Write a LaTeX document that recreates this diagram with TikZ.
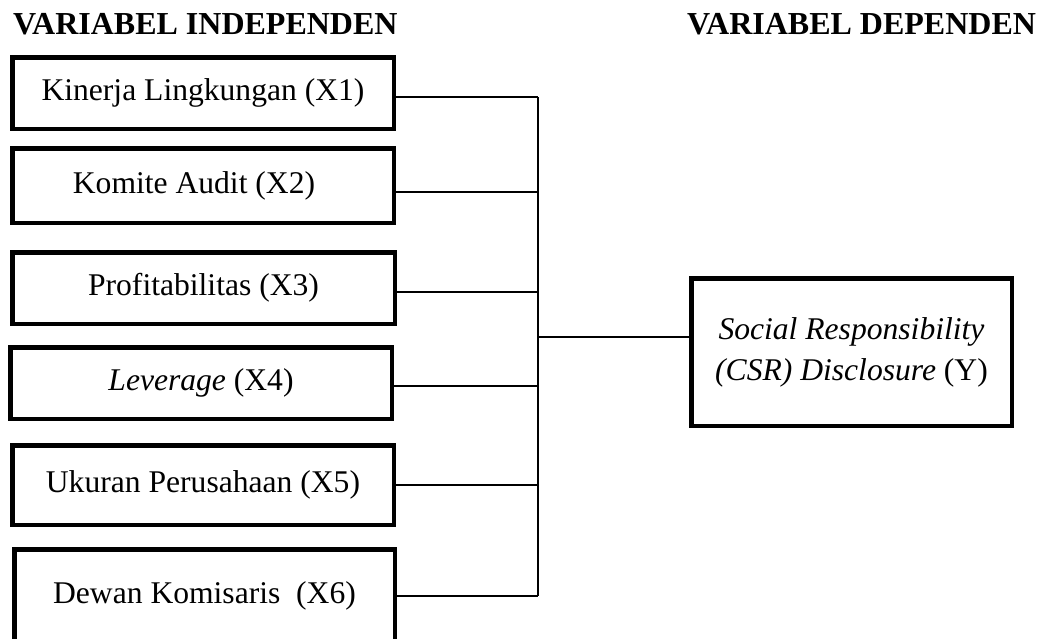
\documentclass[tikz,border=0pt]{standalone}
\usepackage{fontspec}
\setmainfont{Liberation Serif}
\begin{document}
\begin{tikzpicture}[x=1pt,y=-1pt,
  box/.style={draw=black, line width=4.5pt, inner sep=0pt, align=center,
    font=\fontsize{31.6}{41}\selectfont},
  title/.style={anchor=base west, inner sep=0pt, font=\fontsize{32}{38}\selectfont\bfseries},
  conn/.style={draw=black, line width=2pt}]
\useasboundingbox (0,0) rectangle (1042,638);
\clip (0,0) rectangle (1042,638);
\fill[white] (0,0) rectangle (1042,638);

\node[title] (tl) at (13,34) {VARIABEL INDEPENDEN};
\node[title] (tr) at (687,34) {VARIABEL DEPENDEN};

\node[box, minimum width=381.5pt, minimum height=71.5pt] (b1) at (203,93) {Kinerja Lingkungan (X1)};
\node[box, minimum width=381.5pt, minimum height=74.5pt] (b2) at (203,185.5) {\kern-18pt Komite Audit (X2)};
\node[box, minimum width=382.5pt, minimum height=71.5pt] (b3) at (203.5,288) {Profitabilitas (X3)};
\node[box, minimum width=381.5pt, minimum height=71.5pt] (b4) at (201,383) {\textit{Leverage} (X4)};
\node[box, minimum width=381.5pt, minimum height=79.5pt] (b5) at (203,485) {Ukuran Perusahaan (X5)};
\node[box, minimum width=380.5pt, minimum height=93.5pt] (b6) at (204.5,596) {Dewan Komisaris~ (X6)};
\node[box, minimum width=320.5pt, minimum height=147.5pt] (y) at (851.5,352)
  {\textit{Social Responsibility}\\\textit{(CSR) Disclosure} (Y)};

\coordinate (j1) at (538,97);
\coordinate (j2) at (538,192);
\coordinate (j3) at (538,292);
\coordinate (j4) at (538,386);
\coordinate (j5) at (538,485);
\coordinate (j6) at (538,596);
\coordinate (jy) at (538,337);

\draw[conn] (b1.east |- j1) -- (j1);
\draw[conn] (b2.east |- j2) -- (j2);
\draw[conn] (b3.east |- j3) -- (j3);
\draw[conn] (b4.east |- j4) -- (j4);
\draw[conn] (b5.east |- j5) -- (j5);
\draw[conn] (b6.east |- j6) -- (j6);
\draw[conn] (j1) -- (j6);
\draw[conn] (jy) -- (y.west |- jy);
\end{tikzpicture}
\end{document}
